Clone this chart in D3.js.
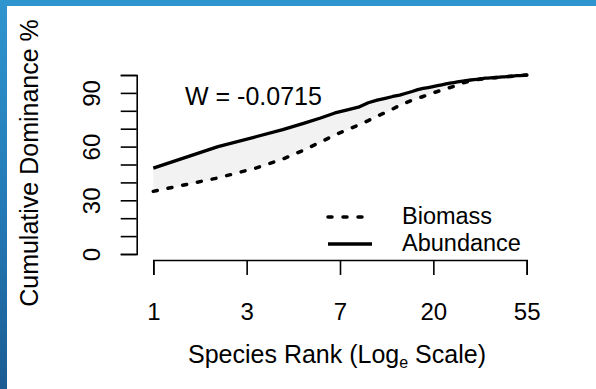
<!DOCTYPE html>
<html>
<head>
<meta charset="utf-8">
<script src="https://cdn.jsdelivr.net/npm/d3@7"></script>
<style>
  html, body { margin: 0; padding: 0; background: #fff; }
  svg { display: block; font-family: "Liberation Sans", Arial, sans-serif; }
</style>
</head>
<body>
<script>
// species rank 1..55 (x axis, natural-log scale)
const ranks = d3.range(1, 56);

// cumulative dominance %
const abundance = [
  48, 60, 65.5, 69.5, 73, 76, 78.8, 80.5, 82, 84.5,
  86, 87, 88, 88.8, 89.8, 90.8, 91.8, 92.5, 93, 93.5,
  94, 94.5, 95, 95.4, 95.8, 96.1, 96.4, 96.7, 97, 97.2,
  97.4, 97.6, 97.8, 98, 98.2, 98.3, 98.4, 98.5, 98.6, 98.7,
  98.8, 98.9, 99, 99.1, 99.2, 99.3, 99.4, 99.5, 99.6, 99.65,
  99.7, 99.8, 99.85, 99.9, 100
];
const biomass = [
  35, 42.5, 48, 53, 58, 62.5, 66.5, 69.5, 72, 74.5,
  77, 79, 81, 83, 84.5, 86, 87, 88, 89, 90,
  90.8, 91.6, 92.3, 93, 93.6, 94.6, 95.2, 95.8, 96.3, 96.7,
  97, 97.3, 97.6, 97.8, 98, 98.2, 98.3, 98.4, 98.5, 98.6,
  98.7, 98.8, 98.9, 99, 99.1, 99.2, 99.3, 99.4, 99.5, 99.6,
  99.7, 99.75, 99.8, 99.9, 100
];

// axis ticks
const xTickValues = [0, 1, 2, 3, 4].map((k) => Math.exp(k));
const xTickLabels = ['1', '3', '7', '20', '55'];
const yTickValues = d3.range(0, 101, 10);
const yTickLabels = ['0', '30', '60', '90'];

const wLabel = 'W = -0.0715';
const seriesNames = ['Biomass', 'Abundance'];

const width = 596;
const height = 389;

const data = ranks.map((r, i) => ({ rank: r, abu: abundance[i], bio: biomass[i] }));

const x = d3.scaleLog().base(Math.E).domain([1, Math.exp(4)]).range([153.3, 526.7]);
const y = d3.scaleLinear().domain([0, 100]).range([254, 75]);

const svg = d3.select('body')
  .append('svg')
  .attr('width', width)
  .attr('height', height);

// blue photo-like frame on top / left edge
const grad = svg.append('defs').append('linearGradient')
  .attr('id', 'sea').attr('x1', 0).attr('y1', 0).attr('x2', 0).attr('y2', 1);
grad.append('stop').attr('offset', '0%').attr('stop-color', '#2f95cf');
grad.append('stop').attr('offset', '55%').attr('stop-color', '#2379b5');
grad.append('stop').attr('offset', '100%').attr('stop-color', '#1b5c93');
svg.append('rect').attr('width', width).attr('height', height).attr('fill', 'url(#sea)');
svg.append('rect').attr('x', 7).attr('y', 6).attr('width', width - 7).attr('height', height - 6).attr('fill', 'white');

// shaded area between the curves
const area = d3.area()
  .x((d) => x(d.rank))
  .y0((d) => y(d.bio))
  .y1((d) => y(d.abu));

svg.append('path')
  .datum(data)
  .attr('fill', '#f2f2f2')
  .attr('d', area);

const lineAbu = d3.line().x((d) => x(d.rank)).y((d) => y(d.abu));
const lineBio = d3.line().x((d) => x(d.rank)).y((d) => y(d.bio));

svg.append('path')
  .datum(data)
  .attr('fill', 'none')
  .attr('stroke', 'black')
  .attr('stroke-width', 3.5)
  .attr('stroke-linecap', 'round')
  .attr('stroke-dasharray', '4,11')
  .attr('d', lineBio);

svg.append('path')
  .datum(data)
  .attr('fill', 'none')
  .attr('stroke', 'black')
  .attr('stroke-width', 3.3)
  .attr('stroke-linejoin', 'round')
  .attr('d', lineAbu);

// X axis
const xAxis = svg.append('g')
  .attr('transform', 'translate(0,260)')
  .call(d3.axisBottom(x)
    .tickValues(xTickValues)
    .tickSizeOuter(0)
    .tickSize(15)
    .tickFormat((d, i) => xTickLabels[i]));
xAxis.selectAll('text')
  .attr('y', 60)
  .attr('dy', null)
  .attr('font-size', 24)
  .attr('fill', 'black');

// Y axis
const yAxis = svg.append('g')
  .attr('transform', 'translate(136.7,0)')
  .call(d3.axisLeft(y)
    .tickValues(yTickValues)
    .tickSizeOuter(0)
    .tickSize(16)
    .tickFormat((d) => (yTickLabels.includes(String(d)) ? String(d) : '')));
yAxis.selectAll('text')
  .attr('x', null)
  .attr('dy', null)
  .attr('text-anchor', 'middle')
  .attr('transform', 'translate(-36.7,0) rotate(-90)')
  .attr('font-size', 24)
  .attr('fill', 'black');

svg.selectAll('.domain, .tick line')
  .attr('stroke', 'black')
  .attr('stroke-width', 1.6);

// axis titles
const xTitle = svg.append('text')
  .attr('x', 337)
  .attr('y', 363)
  .attr('text-anchor', 'middle')
  .attr('font-size', 25);
xTitle.append('tspan').text('Species Rank (Log');
xTitle.append('tspan').attr('font-size', 16).attr('dy', 5).text('e');
xTitle.append('tspan').attr('dy', -5).text(' Scale)');

svg.append('text')
  .attr('transform', 'translate(38,163) rotate(-90)')
  .attr('text-anchor', 'middle')
  .attr('font-size', 25)
  .text('Cumulative Dominance %');

// W statistic
svg.append('text')
  .attr('x', 185)
  .attr('y', 105)
  .attr('font-size', 25)
  .text(wLabel);

// legend
const legend = svg.append('g');
const legendRows = [
  { name: seriesNames[0], dash: '4,11', yy: 217, ty: 224 },
  { name: seriesNames[1], dash: null, yy: 244, ty: 251 }
];
legendRows.forEach((row) => {
  legend.append('line')
    .attr('x1', 328).attr('x2', 372)
    .attr('y1', row.yy).attr('y2', row.yy)
    .attr('stroke', 'black')
    .attr('stroke-width', 3.5)
    .attr('stroke-linecap', row.dash ? 'round' : 'butt')
    .attr('stroke-dasharray', row.dash);
  legend.append('text')
    .attr('x', 402)
    .attr('y', row.ty)
    .attr('font-size', 23.5)
    .text(row.name);
});
</script>
</body>
</html>
